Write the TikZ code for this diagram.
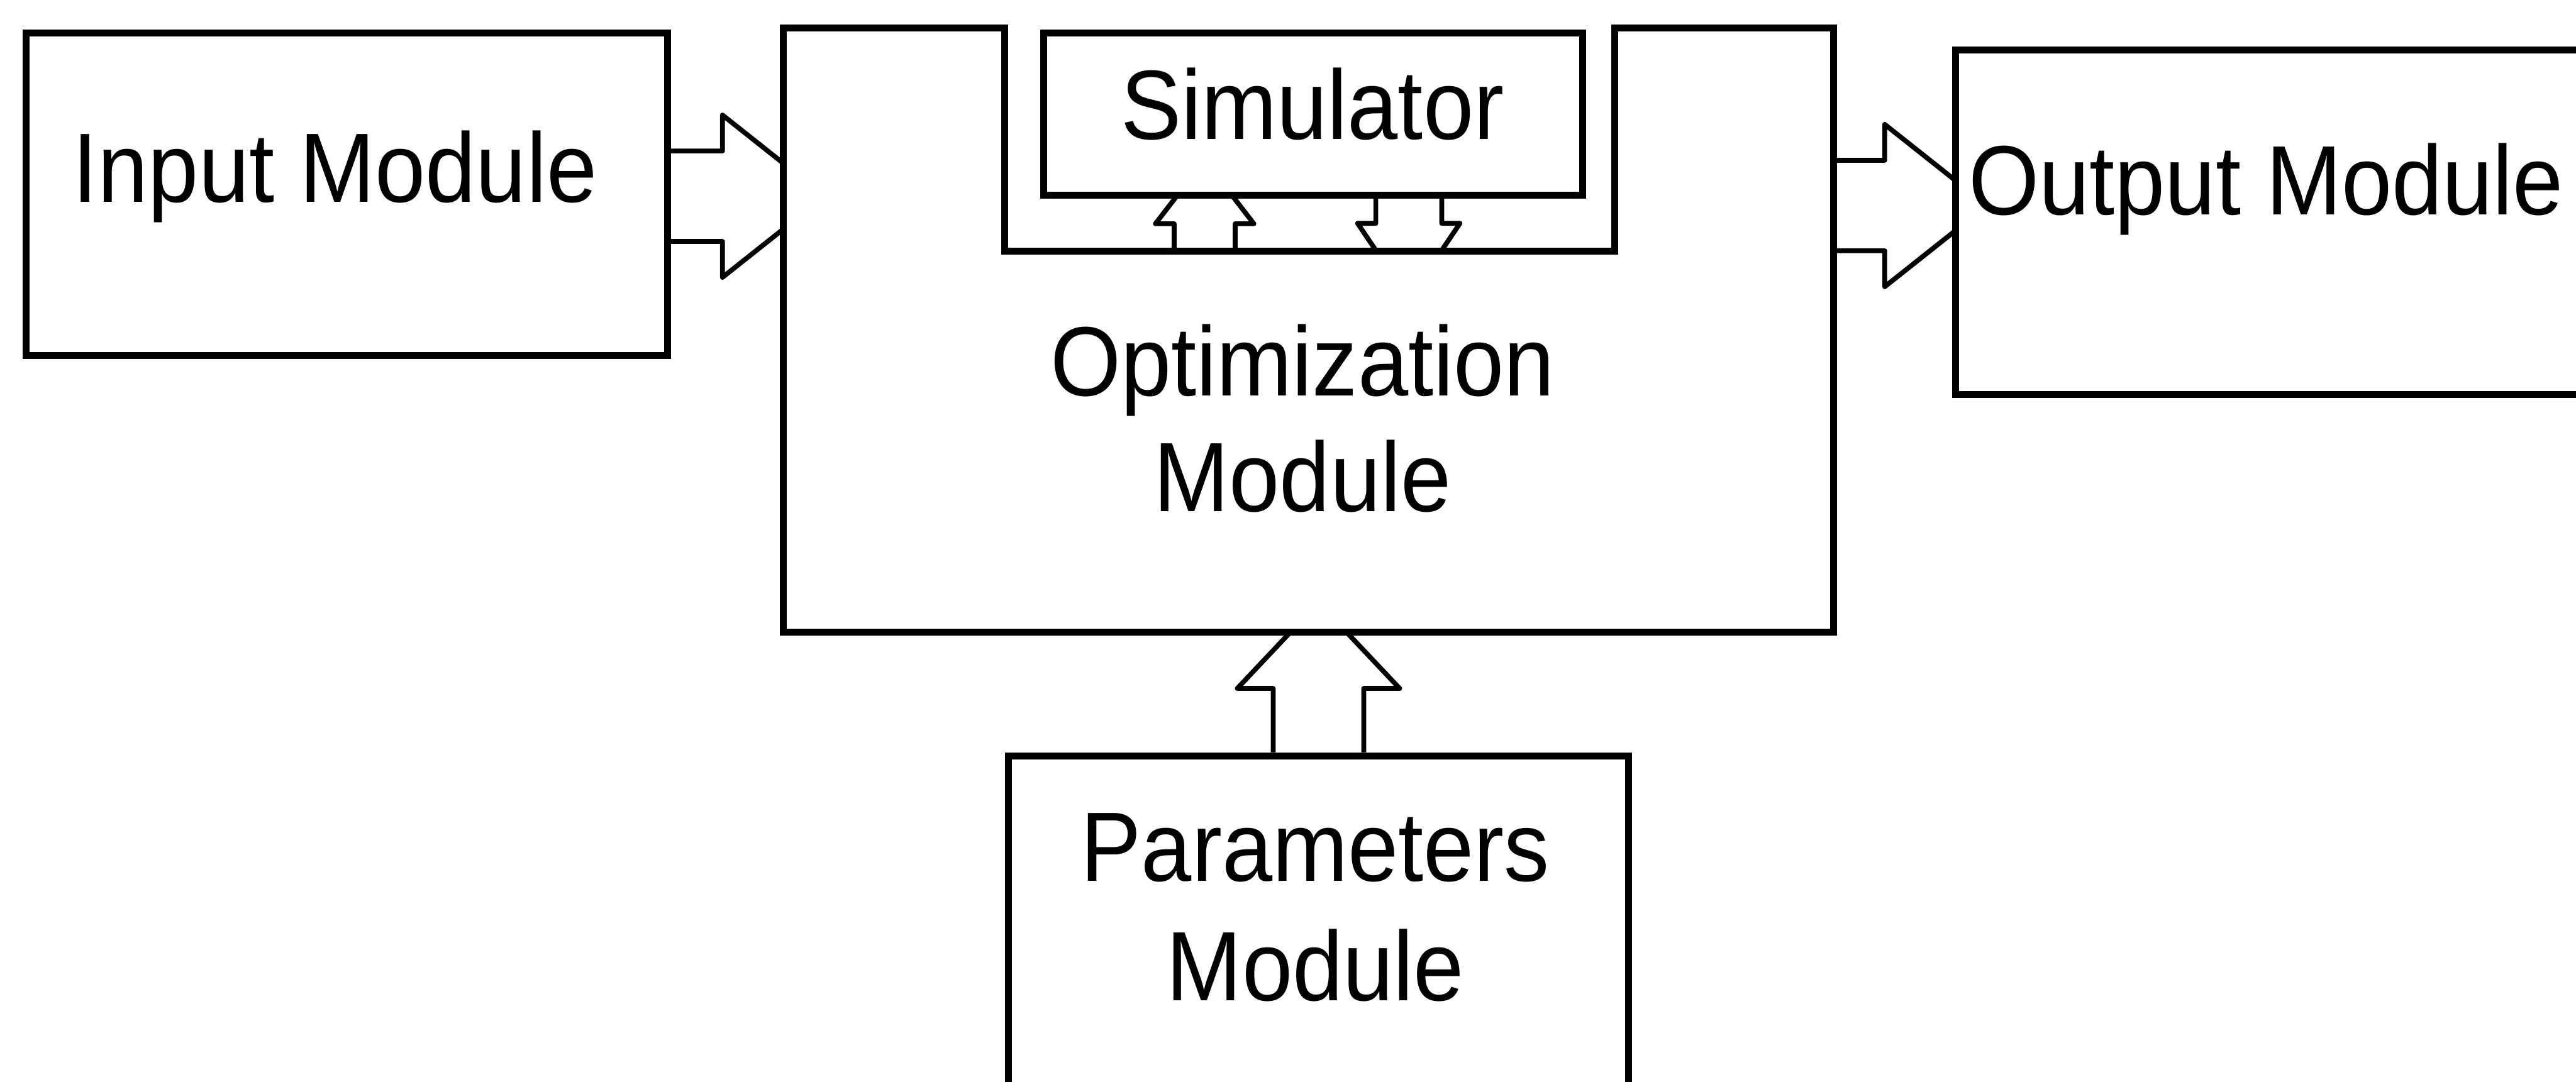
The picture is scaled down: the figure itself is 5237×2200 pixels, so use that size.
\documentclass[tikz,border=0pt]{standalone}
\usepackage{fontspec}
\setmainfont{Liberation Sans}
\usetikzlibrary{calc}
\pgfdeclarelayer{arrows}
\pgfsetlayers{arrows,main}
\newcommand\narrowtext[1]{\scalebox{0.92}[1]{#1}}
\begin{document}
\begin{tikzpicture}[x=0.01cm, y=-0.01cm,
  boxline/.style={draw=black, line width=4pt, fill=white, line join=miter},
  module/.style={boxline, rectangle, inner sep=0pt, anchor=north west},
  caption/.style={font=\fontsize{57}{68}\selectfont, inner sep=0pt, anchor=base},
  arrowline/.style={draw=black, line width=2.8pt, fill=white, line join=round},
  % hollow block arrow: shaft half-width, head half-width, shaft length, head length
  pics/blockarrow/.style n args={4}{code={
    \draw[arrowline] (0,-#1) -- (#3,-#1) -- (#3,-#2) -- ({#3+#4},0)
      -- (#3,#2) -- (#3,#1) -- (0,#1);}}]
\useasboundingbox (0,0) rectangle (5237,2200);

% modules
\node[module, minimum width=13.03cm, minimum height=6.55cm] (in) at (46,60) {};
\node[draw=none, fill=none, inner sep=0pt, minimum width=21.32cm,
      minimum height=12.26cm, anchor=north west] (opt) at (1593,57) {};
\coordinate (notchL) at (2043,511);
\coordinate (notchR) at (3283,511);
\draw[boxline] (opt.north west) -- (notchL |- opt.north) -- (notchL) -- (notchR)
  -- (notchR |- opt.north) -- (opt.north east) -- (opt.south east)
  -- (opt.south west) -- cycle;
\node[module, minimum width=10.95cm, minimum height=3.30cm] (sim) at (2115,60) {};
\node[module, minimum width=12.90cm, minimum height=7.00cm] (out) at (3968,95) {};
\node[module, minimum width=12.60cm, minimum height=7.50cm] (par) at (2043,1530) {};

% data flow between modules
\begin{pgfonlayer}{arrows}
  \pic at (in.east |- 0,399) {blockarrow={92}{165}{105}{208}};
  \pic at (opt.east |- 0,418) {blockarrow={92}{165}{104}{208}};
  \pic[rotate=90] at (par.north) {blockarrow={92}{165}{130}{175}};
  \pic[rotate=90] at (notchL -| 2449,0) {blockarrow={62}{100}{56}{130}};
  \pic[rotate=-90] at (sim.south -| 2864,0) {blockarrow={67}{104}{50}{154}};
\end{pgfonlayer}

% captions
\node[caption] (inlabel) at (681,411) {\narrowtext{Input Module}};
\node[caption] (simlabel) at (2668,283) {\narrowtext{Simulator}};
\node[caption] (optlabel) at (2648,805) {\narrowtext{Optimization}};
\node[caption] (optlabelb) at (2648,1040) {\narrowtext{Module}};
\node[caption] (outlabel) at (4607,436) {\narrowtext{Output Module}};
\node[caption] (parlabel) at (2674,1792) {\narrowtext{Parameters}};
\node[caption] (parlabelb) at (2674,2035) {\narrowtext{Module}};
\end{tikzpicture}
\end{document}
